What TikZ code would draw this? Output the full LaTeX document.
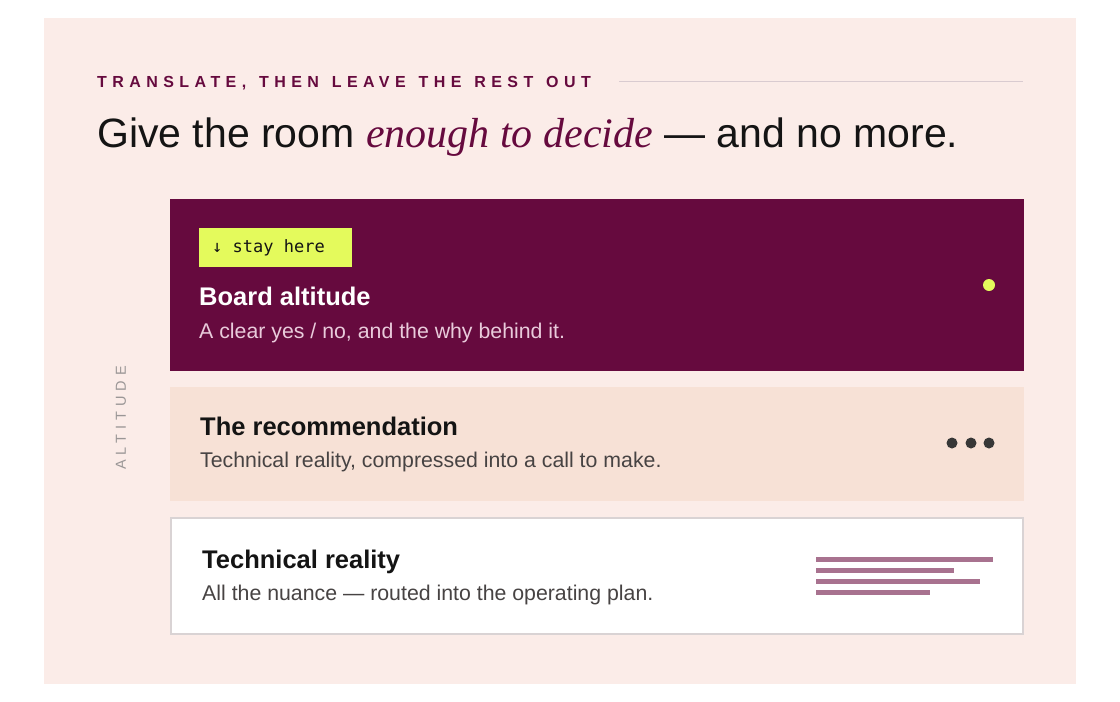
\documentclass[tikz,border=0pt]{standalone}
\usepackage{fontspec}
\usetikzlibrary{positioning}
\newfontfamily\uisans{Liberation Sans}
\newfontfamily\uitrack[LetterSpace=34,WordSpace=1.3]{Liberation Sans}
\newfontfamily\uiserif{Liberation Serif}
\newfontfamily\uimono{DejaVu Sans Mono}
\definecolor{plum}{HTML}{660A3E}
\definecolor{blush}{HTML}{FBECE8}
\definecolor{peach}{HTML}{F7E1D6}
\definecolor{lime}{HTML}{E4FA5C}
\definecolor{mauve}{HTML}{A8728F}
\definecolor{ink}{HTML}{141414}
\definecolor{slate}{HTML}{474343}
\definecolor{rose}{HTML}{E9CBDB}
\definecolor{edge}{HTML}{D9D3D4}
\definecolor{fog}{HTML}{9A9696}
\definecolor{hairline}{HTML}{D9CBD0}

\begin{document}
\begin{tikzpicture}[x=1pt, y=-1pt,
  card/.style={anchor=north west, inner sep=0pt, outer sep=0pt, minimum width=854pt},
  head/.style={anchor=base west, inner sep=0pt, font=\uisans\bfseries\fontsize{25.5}{30}\selectfont, text=ink},
  note/.style={anchor=base west, inner sep=0pt, font=\uisans\fontsize{21.3}{25}\selectfont, text=slate},
  stripe/.style={line width=5pt, mauve},
  dot/.style={circle, inner sep=0pt, minimum size=11pt}]

\useasboundingbox[fill=white] (0,0) rectangle (1120,702);
\fill[blush] (44,18) rectangle (1076,684);

% heading
\node[anchor=base west, inner sep=0pt, font=\uitrack\bfseries\fontsize{16}{19}\selectfont, text=plum] (kicker) at (97,87) {TRANSLATE, THEN LEAVE THE REST OUT};
\coordinate (rulestart) at (619,81.5);
\coordinate (ruleend) at (1023,81.5);
\draw[hairline, line width=1.2pt] (rulestart) -- (ruleend);

\node[anchor=base west, inner sep=0pt, font=\uisans\fontsize{41}{48}\selectfont, text=ink] (title) at (97,147) {Give the room {\uiserif\itshape\fontsize{42}{48}\selectfont\color{plum}enough to decide} — and no more.};

\node[rotate=90, inner sep=0pt, font=\uitrack\fontsize{14.5}{17}\selectfont, text=fog] (axis) at (121,418) {ALTITUDE};

% cards
\node[card, fill=plum, minimum height=172pt] (board) at (170,199) {};
\node[card, fill=peach, minimum height=114pt] (call) at (170,387) {};
\node[card, fill=white, draw=edge, line width=2pt, minimum width=852pt, minimum height=116pt] (reality) at (171,518) {};

% board altitude
\node[anchor=north west, inner sep=0pt, fill=lime, minimum width=153pt, minimum height=39pt] (tag) at (199,228) {};
\node[anchor=base west, inner sep=0pt, font=\uimono\fontsize{17}{20}\selectfont, text=ink] (tagtext) at (212,252) {↓ stay here};
\node[head, text=white] (boardhead) at (199,305) {Board altitude};
\node[note, text=rose] (boardnote) at (199,338) {A clear yes / no, and the why behind it.};
\node[dot, fill=lime, minimum size=12pt] (signal) at (989,285) {};

% recommendation
\node[head] (callhead) at (200,435) {The recommendation};
\node[note] (callnote) at (200,467) {Technical reality, compressed into a call to make.};
\foreach \i/\x in {1/952,2/971,3/989}
  \node[dot, fill=ink!85] (more\i) at (\x,443) {};

% technical reality
\node[head] (realhead) at (202,568) {Technical reality};
\node[note] (realnote) at (202,600) {All the nuance — routed into the operating plan.};
\foreach \y/\xend in {559.7/993, 570.5/954, 581.3/980, 592.3/930}
  \draw[stripe] (816,\y) -- (\xend,\y);

\end{tikzpicture}
\end{document}
